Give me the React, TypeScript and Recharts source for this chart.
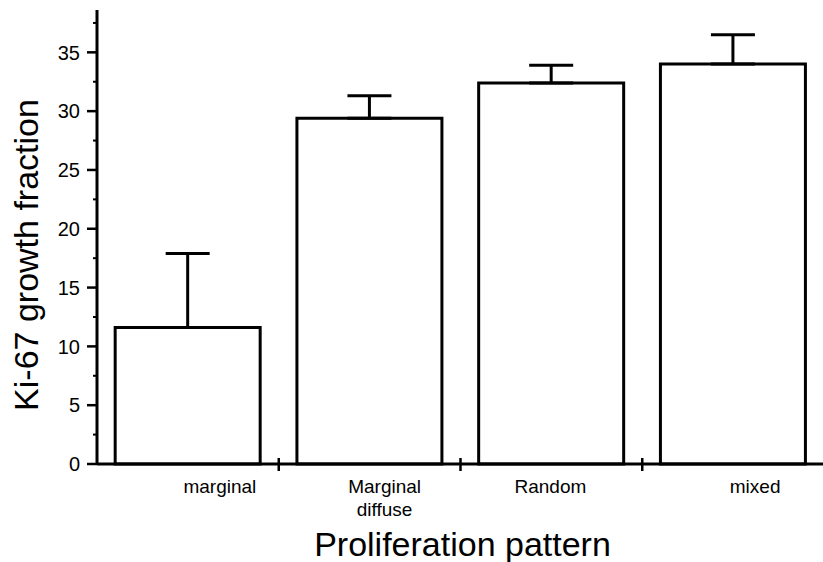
import { BarChart, Bar, XAxis, YAxis, ErrorBar } from "recharts";

const patterns = ["marginal", "Marginal\ndiffuse", "Random", "mixed"];
const growthFraction = [11.6, 29.4, 32.4, 34.0];
const growthSd = [6.3, 1.9, 1.5, 2.5];
const majorTicks = [0, 5, 10, 15, 20, 25, 30, 35];
const minorTicks = [2.5, 7.5, 12.5, 17.5, 22.5, 27.5, 32.5, 37.5];

const data = patterns.map((name, i) => ({
  name,
  value: growthFraction[i],
  // only the upper whisker is drawn in the original
  err: [0, growthSd[i]],
}));

const allTicks = [...majorTicks, ...minorTicks].sort((a, b) => a - b);

// the category labels sit a bit off-centre in the original
const labelShift = [32, 15, -1, 22];

const FONT = "'Liberation Sans', Arial, Helvetica, sans-serif";

function ValueTick(props: any) {
  const { x, y, payload } = props;
  const isMajor = majorTicks.includes(payload.value);
  if (!isMajor) {
    return <line x1={x - 4} x2={x} y1={y} y2={y} stroke="#000" strokeWidth={2} />;
  }
  return (
    <g>
      <line x1={x - 10} x2={x} y1={y} y2={y} stroke="#000" strokeWidth={2.5} />
      <text
        x={x - 17}
        y={y}
        dy="0.36em"
        textAnchor="end"
        fontSize={20}
        fontFamily={FONT}
        fill="#000"
      >
        {payload.value}
      </text>
    </g>
  );
}

function CategoryTick(props: any) {
  const { x, y, payload, index } = props;
  const half = payload && payload.offset ? payload.offset : 0;
  const lines = String(payload.value).split("\n");
  const cx = x + labelShift[index];
  return (
    <g>
      {index > 0 && (
        <line x1={x - half} x2={x - half} y1={y - 6} y2={y + 7} stroke="#000" strokeWidth={2.5} />
      )}
      <text x={cx} y={y + 29} textAnchor="middle" fontSize={19} fontFamily={FONT} fill="#000">
        {lines.map((line, i) => (
          <tspan key={i} x={cx} dy={i === 0 ? 0 : 23}>
            {line}
          </tspan>
        ))}
      </text>
    </g>
  );
}

function YTitle() {
  return (
    <text
      x={38}
      y={255}
      transform="rotate(-90 38 255)"
      textAnchor="middle"
      fontSize={34}
      fontFamily={FONT}
      fill="#000"
    >
      Ki-67 growth fraction
    </text>
  );
}

function XTitle(props: any) {
  const vb = props.viewBox || { x: 97, y: 464, width: 727 };
  return (
    <text
      x={vb.x + vb.width / 2 + 2}
      y={vb.y + 92}
      textAnchor="middle"
      fontSize={34}
      fontFamily={FONT}
      fill="#000"
    >
      Proliferation pattern
    </text>
  );
}

export default function App() {
  return (
    <div
      style={{
        position: "absolute",
        left: 0,
        top: 0,
        width: 823,
        height: 562,
        overflow: "hidden",
        background: "#fff",
      }}
    >
      <BarChart
        width={824}
        height={562}
        data={data}
        margin={{ top: 10, right: 0, bottom: 0, left: 0 }}
        barCategoryGap="10%"
      >
        <XAxis
          dataKey="name"
          height={98}
          interval={0}
          tickLine={false}
          tickSize={0}
          tickMargin={0}
          axisLine={{ stroke: "#000", strokeWidth: 3 }}
          tick={<CategoryTick />}
          label={<XTitle />}
        />
        <YAxis
          width={97}
          domain={[0, 38.6]}
          ticks={allTicks}
          interval={0}
          tickLine={false}
          tickSize={0}
          tickMargin={0}
          axisLine={{ stroke: "#000", strokeWidth: 3 }}
          tick={<ValueTick />}
          label={<YTitle />}
        />
        <Bar dataKey="value" fill="#fff" stroke="#000" strokeWidth={3} isAnimationActive={false}>
          <ErrorBar
            dataKey="err"
            width={22}
            stroke="#000"
            strokeWidth={3}
            isAnimationActive={false}
          />
        </Bar>
      </BarChart>
    </div>
  );
}
